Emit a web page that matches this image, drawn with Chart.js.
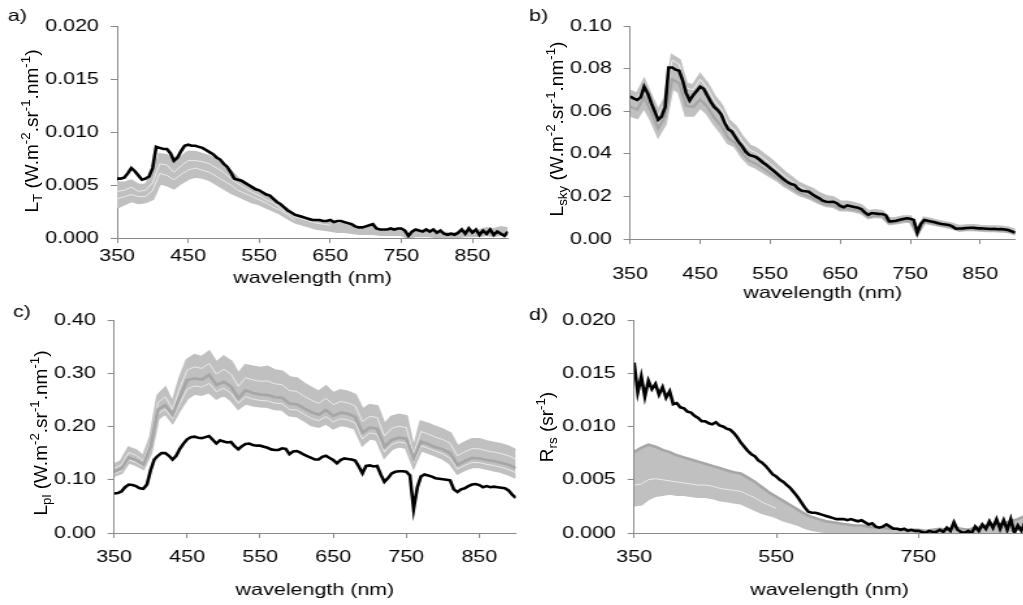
<!DOCTYPE html>
<html>
<head>
<meta charset="utf-8">
<script src="https://cdn.jsdelivr.net/npm/chart.js@4.4.0/dist/chart.umd.min.js"></script>
<style>
  html, body { margin: 0; padding: 0; background: #fff; overflow: hidden; }
  #wrap { position: relative; width: 1023px; height: 605px; }
  canvas { position: absolute; }
  .ytitle {
    position: absolute;
    transform: translate(-50%, -50%) rotate(-90deg);
    white-space: nowrap;
    font: 19px "Liberation Sans", Arial, sans-serif;
    line-height: 1;
    color: #000;
  }
  .ytitle sub, .ytitle sup { font-size: 70%; line-height: 0; }
</style>
</head>
<body>
<div id="wrap">
  <canvas id="cA" width="402" height="310" style="left:0px;top:0px;width:522.6px;height:310px"></canvas>
  <canvas id="cB" width="402" height="310" style="left:503px;top:0px;width:522.6px;height:310px"></canvas>
  <canvas id="cC" width="402" height="305" style="left:0px;top:300px;width:522.6px;height:305px"></canvas>
  <canvas id="cD" width="402" height="305" style="left:503px;top:300px;width:522.6px;height:305px"></canvas>
  <div class="ytitle" style="left:31px;top:131px">L<sub>T</sub> (W.m<sup>-2</sup>.sr<sup>-1</sup>.nm<sup>-1</sup>)</div>
  <div class="ytitle" style="left:556px;top:129px">L<sub>sky</sub> (W.m<sup>-2</sup>.sr<sup>-1</sup>.nm<sup>-1</sup>)</div>
  <div class="ytitle" style="left:40px;top:433px">L<sub>pl</sub> (W.m<sup>-2</sup>.sr<sup>-1</sup>.nm<sup>-1</sup>)</div>
  <div class="ytitle" style="left:546px;top:427px">R<sub>rs</sub> (sr<sup>-1</sup>)</div>
</div>
<script>
// wavelength grids (nm)
const wl5 = [350,355,360,365,370,375,380,385,390,395,
  400,405,410,415,420,425,430,435,440,445,
  450,455,460,465,470,475,480,485,490,495,
  500,505,510,515,520,525,530,535,540,545,
  550,555,560,565,570,575,580,585,590,595,
  600,605,610,615,620,625,630,635,640,645,
  650,655,660,665,670,675,680,685,690,695,
  700,705,710,715,720,725,730,735,740,745,
  750,755,760,765,770,775,780,785,790,795,
  800,805,810,815,820,825,830,835,840,845,
  850,855,860,865,870,875,880,885,890,895,
  900];
const wl10 = [350,360,370,380,390,400,410,420,430,440,
  450,460,470,480,490,500,510,520,530,540,
  550,560,570,580,590,600,610,620,630,640,
  650,660,670,680,690,700,710,720,730,740,
  750,760,770,780,790,800,810,820,830,840,
  850,860,870,880,890,900];

// tick values and labels
const xTicks = [350,450,550,650,750,850];
const xLabels = ['350','450','550','650','750','850'];
const xTicksD = [350,550,750];
const xLabelsD = ['350','550','750'];
const yTicksA = [0,0.005,0.01,0.015,0.02];
const yLabelsA = ['0.000','0.005','0.010','0.015','0.020'];
const yTicksB = [0,0.02,0.04,0.06,0.08,0.1];
const yLabelsB = ['0.00','0.02','0.04','0.06','0.08','0.10'];
const yTicksC = [0,0.1,0.2,0.3,0.4];
const yLabelsC = ['0.00','0.10','0.20','0.30','0.40'];
const yTicksD = [0,0.005,0.01,0.015,0.02];
const yLabelsD = ['0.000','0.005','0.010','0.015','0.020'];

// a) L_T
const blackA = [0.0056,0.0056,0.0057,0.0061,0.0066,0.0063,0.0059,0.0055,0.0056,0.0058,
  0.0066,0.0086,0.0085,0.0084,0.0084,0.0080,0.0073,0.0076,0.0082,0.0087,
  0.0088,0.0087,0.0087,0.0086,0.0085,0.0083,0.0081,0.0079,0.0076,0.0074,
  0.0070,0.0067,0.0062,0.0056,0.0055,0.0054,0.0052,0.0050,0.0048,0.0046,
  0.0045,0.0043,0.0041,0.0040,0.0037,0.0034,0.0032,0.0029,0.0026,0.0024,
  0.0022,0.0021,0.0020,0.0019,0.0018,0.0017,0.0017,0.0017,0.0016,0.0016,
  0.0017,0.0015,0.0016,0.0016,0.0015,0.0014,0.0013,0.0011,0.0010,0.0010,
  0.0011,0.0012,0.0013,0.0009,0.0008,0.0008,0.0008,0.0009,0.0008,0.0009,
  0.0009,0.0007,0.0002,0.0006,0.0008,0.0007,0.0006,0.0008,0.0006,0.0008,
  0.0005,0.0007,0.0004,0.0003,0.0004,0.0003,0.0005,0.0008,0.0004,0.0009,
  0.0005,0.0008,0.0003,0.0007,0.0004,0.0008,0.0003,0.0006,0.0004,0.0002,
  0.0006];
const grayTopA = [0.0052,0.0052,0.0054,0.0050,0.0050,0.0060,0.0079,0.0078,0.0070,0.0076,
  0.0081,0.0081,0.0079,0.0077,0.0073,0.0069,0.0063,0.0056,0.0052,0.0048,
  0.0044,0.0040,0.0036,0.0031,0.0027,0.0022,0.0020,0.0018,0.0016,0.0015,
  0.0014,0.0013,0.0013,0.0011,0.0009,0.0009,0.0010,0.0007,0.0006,0.0007,
  0.0007,0.0002,0.0006,0.0006,0.0006,0.0005,0.0005,0.0004,0.0005,0.0006,
  0.0006,0.0007,0.0009,0.0008,0.0010,0.0009];
const grayBotA = [0.0029,0.0032,0.0035,0.0033,0.0034,0.0037,0.0052,0.0050,0.0047,0.0052,
  0.0056,0.0058,0.0057,0.0055,0.0051,0.0047,0.0043,0.0040,0.0037,0.0034,
  0.0032,0.0029,0.0026,0.0023,0.0019,0.0015,0.0013,0.0011,0.0009,0.0008,
  0.0007,0.0006,0.0006,0.0005,0.0004,0.0004,0.0004,0.0003,0.0003,0.0003,
  0.0003,0.0000,0.0002,0.0002,0.0002,0.0001,0.0001,0.0001,0.0001,0.0002,
  0.0002,0.0002,0.0003,0.0002,0.0003,0.0003];
// thin white gaps between individual grey spectra (350-650 nm)
const seamA1 = [0.0044,0.0045,0.0048,0.0044,0.0045,0.0052,0.0070,0.0069,0.0062,0.0068,
  0.0073,0.0073,0.0072,0.0070,0.0066,0.0062,0.0056,0.0051,0.0047,0.0043,
  0.0040,0.0036,0.0033,0.0028,0.0024,0.0020,0.0018,0.0016,0.0014,0.0013,
  0.0012];
const seamA2 = [0.0037,0.0039,0.0041,0.0039,0.0039,0.0045,0.0061,0.0059,0.0055,0.0060,
  0.0064,0.0066,0.0064,0.0062,0.0058,0.0054,0.0050,0.0045,0.0042,0.0039,
  0.0036,0.0033,0.0029,0.0026,0.0022,0.0017];

// b) L_sky
const blackB = [0.0670,0.0660,0.0653,0.0665,0.0715,0.0685,0.0640,0.0600,0.0560,0.0575,
  0.0620,0.0805,0.0805,0.0795,0.0790,0.0745,0.0685,0.0650,0.0675,0.0695,
  0.0715,0.0705,0.0675,0.0645,0.0620,0.0605,0.0585,0.0545,0.0515,0.0505,
  0.0480,0.0455,0.0435,0.0410,0.0395,0.0390,0.0384,0.0372,0.0358,0.0347,
  0.0333,0.0320,0.0306,0.0292,0.0278,0.0266,0.0258,0.0253,0.0236,0.0226,
  0.0224,0.0222,0.0210,0.0200,0.0191,0.0180,0.0175,0.0174,0.0175,0.0168,
  0.0155,0.0149,0.0158,0.0154,0.0150,0.0147,0.0141,0.0125,0.0113,0.0122,
  0.0120,0.0118,0.0117,0.0112,0.0083,0.0084,0.0086,0.0090,0.0094,0.0097,
  0.0095,0.0090,0.0030,0.0070,0.0089,0.0086,0.0082,0.0079,0.0074,0.0070,
  0.0068,0.0066,0.0060,0.0048,0.0049,0.0050,0.0052,0.0053,0.0053,0.0051,
  0.0050,0.0049,0.0048,0.0047,0.0048,0.0046,0.0047,0.0045,0.0042,0.0036,
  0.0030];
const grayTopB = [0.0695,0.0680,0.0745,0.0670,0.0600,0.0660,0.0860,0.0840,0.0730,0.0720,
  0.0770,0.0730,0.0670,0.0630,0.0560,0.0530,0.0480,0.0440,0.0425,0.0400,
  0.0375,0.0345,0.0315,0.0290,0.0265,0.0250,0.0235,0.0215,0.0200,0.0195,
  0.0175,0.0175,0.0168,0.0158,0.0130,0.0135,0.0130,0.0096,0.0098,0.0105,
  0.0105,0.0042,0.0100,0.0093,0.0085,0.0078,0.0070,0.0060,0.0063,0.0064,
  0.0061,0.0059,0.0058,0.0057,0.0053,0.0042];
const grayMidB = [0.0622,0.0607,0.0665,0.0597,0.0520,0.0575,0.0750,0.0732,0.0625,0.0620,
  0.0655,0.0622,0.0570,0.0532,0.0475,0.0450,0.0402,0.0367,0.0353,0.0331,
  0.0308,0.0286,0.0260,0.0240,0.0219,0.0206,0.0193,0.0175,0.0161,0.0159,
  0.0142,0.0142,0.0137,0.0128,0.0103,0.0109,0.0107,0.0075,0.0078,0.0085,
  0.0086,0.0024,0.0080,0.0074,0.0067,0.0061,0.0053,0.0042,0.0045,0.0046,
  0.0043,0.0041,0.0041,0.0039,0.0035,0.0025];
const grayBotB = [0.0580,0.0570,0.0620,0.0560,0.0485,0.0540,0.0710,0.0690,0.0580,0.0580,
  0.0620,0.0590,0.0540,0.0500,0.0450,0.0435,0.0385,0.0350,0.0335,0.0315,
  0.0295,0.0275,0.0250,0.0230,0.0210,0.0198,0.0185,0.0168,0.0155,0.0152,
  0.0135,0.0135,0.0130,0.0122,0.0098,0.0104,0.0102,0.0070,0.0074,0.0080,
  0.0082,0.0020,0.0076,0.0070,0.0063,0.0058,0.0050,0.0039,0.0042,0.0043,
  0.0040,0.0038,0.0038,0.0036,0.0033,0.0022];
const seamB = [0.0675,0.0660,0.0725,0.0650,0.0580,0.0640,0.0840,0.0820,0.0710,0.0700,
  0.0750,0.0710,0.0650,0.0610,0.0540,0.0510,0.0460,0.0420,0.0405,0.0380,
  0.0355,0.0325,0.0297,0.0272,0.0248,0.0233];

// c) L_pl
const blackC = [0.074,0.075,0.078,0.086,0.091,0.090,0.088,0.084,0.083,0.091,
  0.118,0.138,0.145,0.150,0.150,0.145,0.138,0.145,0.158,0.168,
  0.176,0.180,0.181,0.179,0.178,0.180,0.182,0.175,0.168,0.174,
  0.172,0.170,0.171,0.163,0.157,0.163,0.167,0.168,0.165,0.164,
  0.164,0.162,0.160,0.157,0.156,0.156,0.159,0.158,0.148,0.153,
  0.154,0.151,0.147,0.144,0.141,0.138,0.138,0.143,0.145,0.141,
  0.137,0.131,0.137,0.140,0.139,0.138,0.136,0.125,0.112,0.126,
  0.127,0.125,0.126,0.110,0.096,0.103,0.112,0.115,0.116,0.116,
  0.115,0.108,0.045,0.085,0.106,0.110,0.108,0.106,0.103,0.102,
  0.101,0.100,0.099,0.082,0.077,0.082,0.084,0.088,0.091,0.092,
  0.090,0.086,0.088,0.086,0.087,0.086,0.085,0.084,0.080,0.072,
  0.066];
const grayTopC = [0.128,0.135,0.160,0.155,0.143,0.180,0.258,0.272,0.243,0.290,
  0.325,0.334,0.330,0.340,0.319,0.331,0.322,0.298,0.315,0.312,
  0.310,0.312,0.305,0.303,0.292,0.290,0.280,0.272,0.265,0.275,
  0.262,0.268,0.265,0.259,0.231,0.240,0.238,0.203,0.218,0.222,
  0.219,0.155,0.209,0.205,0.199,0.194,0.187,0.162,0.170,0.176,
  0.176,0.172,0.169,0.166,0.162,0.155];
const grayMidC = [0.115,0.121,0.142,0.137,0.128,0.162,0.232,0.240,0.222,0.255,
  0.287,0.290,0.288,0.297,0.278,0.284,0.275,0.253,0.268,0.263,
  0.260,0.259,0.255,0.254,0.243,0.242,0.234,0.227,0.222,0.231,
  0.220,0.226,0.224,0.218,0.188,0.198,0.196,0.162,0.175,0.179,
  0.177,0.140,0.172,0.167,0.161,0.157,0.150,0.128,0.135,0.141,
  0.140,0.137,0.135,0.132,0.128,0.122];
const grayBotC = [0.108,0.113,0.133,0.128,0.121,0.150,0.215,0.225,0.208,0.232,
  0.253,0.262,0.260,0.265,0.253,0.260,0.250,0.234,0.244,0.240,
  0.238,0.237,0.233,0.232,0.221,0.220,0.212,0.203,0.200,0.206,
  0.197,0.203,0.201,0.196,0.166,0.178,0.175,0.143,0.158,0.163,
  0.160,0.125,0.156,0.151,0.146,0.140,0.131,0.112,0.119,0.124,
  0.124,0.121,0.118,0.115,0.110,0.104];
const seamC1 = [0.1215,0.128,0.151,0.146,0.1355,0.171,0.245,0.256,0.2325,0.2725,
  0.306,0.312,0.309,0.3185,0.2985,0.3075,0.2985,0.2755,0.2915,0.2875,
  0.285,0.2855,0.280,0.2785,0.2675,0.266,0.257,0.2495,0.2435,0.253,
  0.241,0.247,0.2445,0.2385,0.2095,0.219,0.217,0.1825,0.1965,0.2005,
  0.198,0.1475,0.1905,0.186,0.180,0.1755,0.1685,0.145,0.1525,0.1585,
  0.158,0.1545,0.152,0.149,0.145,0.1385];
const seamC2 = [0.1115,0.117,0.1375,0.1325,0.1245,0.156,0.2235,0.2325,0.215,0.2435,
  0.270,0.276,0.274,0.281,0.2655,0.272,0.2625,0.2435,0.256,0.2515,
  0.249,0.248,0.244,0.243,0.232,0.231,0.223,0.215,0.211,0.2185,
  0.2085,0.2145,0.2125,0.207,0.177,0.188,0.1855,0.1525,0.1665,0.171,
  0.1685,0.1325,0.164,0.159,0.1535,0.1485,0.1405,0.120,0.127,0.1325,
  0.132,0.129,0.1265,0.1235,0.119,0.113];

// d) R_rs
const blackD = [0.0160,0.0132,0.0147,0.0128,0.0143,0.0135,0.0140,0.0130,0.0137,0.0127,
  0.0133,0.0121,0.0122,0.0118,0.0117,0.0114,0.0113,0.0110,0.0108,0.0105,
  0.0105,0.0103,0.0102,0.0104,0.0101,0.0100,0.0098,0.0097,0.0094,0.0090,
  0.0085,0.0081,0.0077,0.0074,0.0072,0.0068,0.0066,0.0063,0.0059,0.0055,
  0.0053,0.0050,0.0048,0.0045,0.0042,0.0038,0.0034,0.0029,0.0024,0.0020,
  0.0019,0.0019,0.0018,0.0017,0.0016,0.0015,0.0014,0.0013,0.0013,0.0013,
  0.0012,0.0013,0.0012,0.0011,0.0012,0.0010,0.0008,0.0009,0.0006,0.0005,
  0.0006,0.0008,0.0006,0.0004,0.0004,0.0003,0.0004,0.0002,0.0003,0.0002,
  0.0002,0.0001,0.0000,0.0002,0.0001,0.0001,0.0003,0.0001,0.0005,0.0002,
  0.0010,0.0003,0.0001,0.0000,0.0002,0.0000,0.0006,0.0002,0.0008,0.0004,
  0.0011,0.0005,0.0013,0.0004,0.0012,0.0003,0.0013,0.0000,0.0007,0.0002,
  0.0010];
const grayTopD = [0.0076,0.0080,0.0083,0.0081,0.0078,0.0076,0.0073,0.0071,0.0069,0.0067,
  0.0065,0.0063,0.0061,0.0059,0.0057,0.0056,0.0052,0.0048,0.0043,0.0038,
  0.0034,0.0030,0.0026,0.0022,0.0018,0.0015,0.0013,0.0011,0.0010,0.0009,
  0.0008,0.0007,0.0007,0.0006,0.0005,0.0005,0.0004,0.0004,0.0003,0.0003,
  0.0003,0.0002,0.0003,0.0004,0.0003,0.0005,0.0004,0.0003,0.0005,0.0006,
  0.0007,0.0008,0.0009,0.0011,0.0013,0.0016];
const grayBotD = [0.0026,0.0027,0.0032,0.0035,0.0036,0.0037,0.0036,0.0036,0.0035,0.0034,
  0.0034,0.0033,0.0031,0.0030,0.0029,0.0028,0.0025,0.0022,0.0019,0.0017,
  0.0015,0.0012,0.0010,0.0008,0.0005,0.0003,0.0002,0.0001,0.0000,0.0000,
  0.0000,0.0000,0.0000,0.0000,0.0000,0.0000,0.0000,0.0000,0.0000,0.0000,
  0.0000,0.0000,0.0000,0.0000,0.0000,0.0000,0.0000,0.0000,0.0000,0.0000,
  0.0000,0.0001,0.0001,0.0002,0.0003,0.0005];
const seamD = [0.0045,0.0046,0.0050,0.0051,0.0050,0.0049,0.0048,0.0047,0.0046,0.0045,
  0.0045,0.0044,0.0042,0.0041,0.0040,0.0039,0.0036,0.0033,0.0029,0.0026,
  0.0023];

const BLACK = '#000000';
const LIGHT = '#c0c0c0';
const DARK = '#a6a6a6';
const GAP = 'rgba(255,255,255,0.85)';
const AXIS = '#8a8a8a';
const FONT = '"Liberation Sans", Arial, sans-serif';

Chart.defaults.font.family = FONT;
Chart.defaults.font.size = 16.5;
Chart.defaults.color = '#000';

function pts(xs, ys) {
  return ys.map((y, i) => ({ x: xs[i], y: y }));
}

function line(xs, ys, color, width, fill) {
  return {
    data: pts(xs, ys),
    borderColor: color,
    backgroundColor: color,
    borderWidth: width,
    pointRadius: 0,
    tension: 0,
    fill: fill === undefined ? false : fill
  };
}

// draws the panel letter in the top-left corner
const panelLabel = {
  id: 'panelLabel',
  afterDraw(chart, args, opts) {
    const ctx = chart.ctx;
    ctx.save();
    ctx.font = '16.5px ' + FONT;
    ctx.fillStyle = '#000';
    ctx.textBaseline = 'alphabetic';
    ctx.fillText(opts.text, opts.x, opts.y);
    ctx.restore();
  }
};

function makeChart(id, p) {
  const axisGrid = { drawOnChartArea: false, drawTicks: true, tickLength: 5, color: AXIS, lineWidth: 1 };
  return new Chart(document.getElementById(id), {
    type: 'line',
    data: { datasets: p.datasets },
    plugins: [panelLabel],
    options: {
      responsive: false,
      animation: false,
      devicePixelRatio: 1,
      events: [],
      layout: { padding: { left: 0, right: p.padRight, top: p.padTop, bottom: 0 } },
      plugins: {
        legend: { display: false },
        tooltip: { enabled: false },
        panelLabel: p.label
      },
      scales: {
        x: {
          type: 'linear',
          min: 350,
          max: 900,
          afterBuildTicks: s => { s.ticks = p.xTicks.map(v => ({ value: v })); },
          afterFit: s => { s.height = p.xHeight; },
          grid: axisGrid,
          border: { color: AXIS, width: 1 },
          ticks: { padding: p.xPad, maxRotation: 0, autoSkip: false, callback: (v, i) => p.xLabels[i] },
          title: { display: true, text: 'wavelength (nm)', padding: { top: 0, bottom: p.titlePad } }
        },
        y: {
          type: 'linear',
          min: 0,
          max: p.yTicks[p.yTicks.length - 1],
          afterBuildTicks: s => { s.ticks = p.yTicks.map(v => ({ value: v })); },
          afterFit: s => { s.width = p.yWidth; },
          grid: axisGrid,
          border: { color: AXIS, width: 1 },
          ticks: { padding: 9, callback: (v, i) => p.yLabels[i] }
        }
      }
    }
  });
}

// dataset 0 is drawn last (on top); the grey band fills from the last dataset to the one before it
makeChart('cA', {
  datasets: [
    line(wl5, blackA, BLACK, 2.6),
    line(wl10, seamA1, GAP, 0.8),
    line(wl10, seamA2, GAP, 0.8),
    line(wl10, grayTopA, LIGHT, 2.6),
    line(wl10, grayBotA, LIGHT, 2.6, '-1')
  ],
  xTicks: xTicks, xLabels: xLabels, yTicks: yTicksA, yLabels: yLabelsA,
  padTop: 26, padRight: 11.6, yWidth: 90, xHeight: 72, xPad: 4, titlePad: 22,
  label: { text: 'a)', x: 6, y: 21 }
});

makeChart('cB', {
  datasets: [
    line(wl5, blackB, BLACK, 2.6),
    line(wl10, grayMidB, DARK, 2.2),
    line(wl10, seamB, GAP, 0.9),
    line(wl10, grayTopB, LIGHT, 2.6),
    line(wl10, grayBotB, LIGHT, 2.6, '-1')
  ],
  xTicks: xTicks, xLabels: xLabels, yTicks: yTicksB, yLabels: yLabelsB,
  padTop: 26, padRight: 4.3, yWidth: 97.7, xHeight: 71, xPad: 21, titlePad: 7,
  label: { text: 'b)', x: 20, y: 21 }
});

makeChart('cC', {
  datasets: [
    line(wl5, blackC, BLACK, 2.6),
    line(wl10, grayMidC, DARK, 2.6),
    line(wl10, seamC1, GAP, 0.8),
    line(wl10, seamC2, GAP, 0.8),
    line(wl10, grayTopC, LIGHT, 2.6),
    line(wl10, grayBotC, LIGHT, 2.6, '-1')
  ],
  xTicks: xTicks, xLabels: xLabels, yTicks: yTicksC, yLabels: yLabelsC,
  padTop: 20, padRight: 5.5, yWidth: 87.7, xHeight: 72, xPad: 10, titlePad: 5,
  label: { text: 'c)', x: 10, y: 17 }
});

makeChart('cD', {
  datasets: [
    line(wl5, blackD, BLACK, 2.6),
    line(wl10, seamD, GAP, 0.8),
    line(wl10, grayTopD, DARK, 2.6),
    line(wl10, grayBotD, LIGHT, 2.6, '-1')
  ],
  xTicks: xTicksD, xLabels: xLabelsD, yTicks: yTicksD, yLabels: yLabelsD,
  padTop: 20, padRight: 0.8, yWidth: 100.8, xHeight: 72, xPad: 10, titlePad: 5,
  label: { text: 'd)', x: 20, y: 20 }
});
</script>
</body>
</html>
